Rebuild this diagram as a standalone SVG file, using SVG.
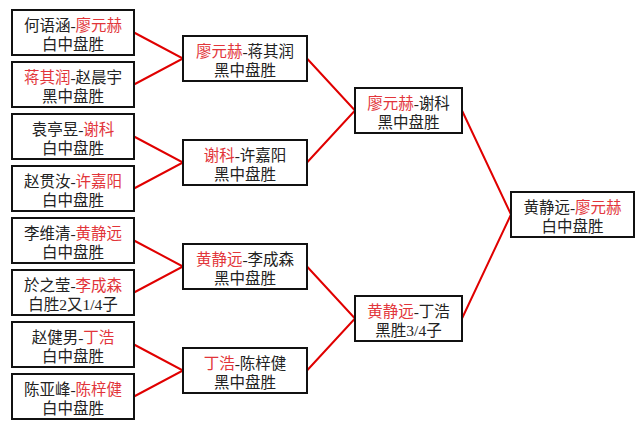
<svg xmlns="http://www.w3.org/2000/svg" width="644" height="429" viewBox="0 0 644 429">
<style>
.box{fill:#fff;stroke:#111;stroke-width:2}
text{font-family:"Liberation Serif","Noto Sans CJK SC",serif;font-size:15.5px;fill:#222;text-anchor:middle}
.r{fill:#e2353a}
.ln{stroke:#e00000;stroke-width:2;fill:none}
</style>
<rect width="644" height="429" fill="#fff"/>
<g id="connectors">
<polyline class="ln" points="134,32.5 183,58.5 134,84.5"/>
<polyline class="ln" points="134,136.5 183,162.5 134,188.5"/>
<polyline class="ln" points="134,240.5 183,266.5 134,292.5"/>
<polyline class="ln" points="134,344.5 183,370.5 134,396.5"/>
<polyline class="ln" points="307,58.5 355,110.5 307,162.5"/>
<polyline class="ln" points="307,266.5 355,318.5 307,370.5"/>
<polyline class="ln" points="462,110.5 511,214.5 462,318.5"/>
</g>
<g id="r1m1"><rect class="box" x="12" y="10" width="122" height="45"/><text x="73" y="31">何语涵-<tspan class="r">廖元赫</tspan></text><text x="73" y="50">白中盘胜</text></g>
<g id="r1m2"><rect class="box" x="12" y="62" width="122" height="45"/><text x="73" y="83"><tspan class="r">蒋其润</tspan>-赵晨宇</text><text x="73" y="102">黑中盘胜</text></g>
<g id="r1m3"><rect class="box" x="12" y="114" width="122" height="45"/><text x="73" y="135">袁亭昱-<tspan class="r">谢科</tspan></text><text x="73" y="154">白中盘胜</text></g>
<g id="r1m4"><rect class="box" x="12" y="166" width="122" height="45"/><text x="73" y="187">赵贯汝-<tspan class="r">许嘉阳</tspan></text><text x="73" y="206">白中盘胜</text></g>
<g id="r1m5"><rect class="box" x="12" y="218" width="122" height="45"/><text x="73" y="239">李维清-<tspan class="r">黄静远</tspan></text><text x="73" y="258">白中盘胜</text></g>
<g id="r1m6"><rect class="box" x="12" y="270" width="122" height="45"/><text x="73" y="291">於之莹-<tspan class="r">李成森</tspan></text><text x="73" y="310">白胜2又1/4子</text></g>
<g id="r1m7"><rect class="box" x="12" y="322" width="122" height="45"/><text x="73" y="343">赵健男-<tspan class="r">丁浩</tspan></text><text x="73" y="362">白中盘胜</text></g>
<g id="r1m8"><rect class="box" x="12" y="374" width="122" height="45"/><text x="73" y="395">陈亚峰-<tspan class="r">陈梓健</tspan></text><text x="73" y="414">白中盘胜</text></g>
<g id="r2m1"><rect class="box" x="183" y="36" width="124" height="45"/><text x="245" y="57"><tspan class="r">廖元赫</tspan>-蒋其润</text><text x="245" y="76">黑中盘胜</text></g>
<g id="r2m2"><rect class="box" x="183" y="140" width="124" height="45"/><text x="245" y="161"><tspan class="r">谢科</tspan>-许嘉阳</text><text x="245" y="180">黑中盘胜</text></g>
<g id="r2m3"><rect class="box" x="183" y="244" width="124" height="45"/><text x="245" y="265"><tspan class="r">黄静远</tspan>-李成森</text><text x="245" y="284">黑中盘胜</text></g>
<g id="r2m4"><rect class="box" x="183" y="348" width="124" height="45"/><text x="245" y="369"><tspan class="r">丁浩</tspan>-陈梓健</text><text x="245" y="388">黑中盘胜</text></g>
<g id="r3m1"><rect class="box" x="355" y="88" width="107" height="45"/><text x="408.5" y="109"><tspan class="r">廖元赫</tspan>-谢科</text><text x="408.5" y="128">黑中盘胜</text></g>
<g id="r3m2"><rect class="box" x="355" y="296" width="107" height="45"/><text x="408.5" y="317"><tspan class="r">黄静远</tspan>-丁浩</text><text x="408.5" y="336">黑胜3/4子</text></g>
<g id="final"><rect class="box" x="511" y="192" width="123" height="45"/><text x="572.5" y="213">黄静远-<tspan class="r">廖元赫</tspan></text><text x="572.5" y="232">白中盘胜</text></g>
</svg>
